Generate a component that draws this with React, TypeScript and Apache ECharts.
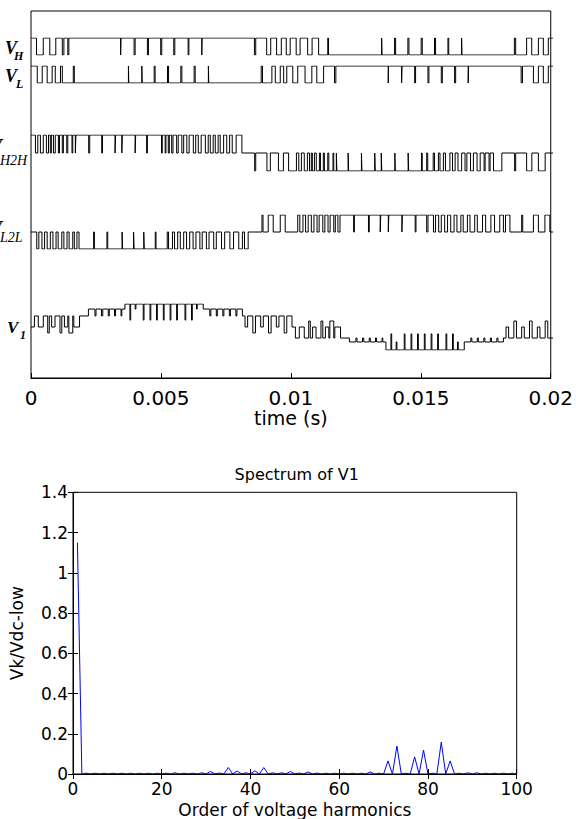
import React, { useEffect, useRef } from "react";
import * as echarts from "echarts";

// ---------- Top panel: switching waveforms (time in ms, level) ----------
const vHTimes = [0, 0.21, 0.47, 0.72, 0.95, 1.2, 1.26, 1.41, 1.45, 3.434, 3.449, 3.95, 3.99, 4.46, 4.5, 4.97, 5.01, 5.47, 5.51, 6.02, 6.05, 6.543, 6.557, 8.56, 8.61, 9.03, 9.185, 9.41, 9.59, 9.78, 9.93, 10.16, 10.31, 10.6, 10.77, 11.02, 11.37, 11.4, 13.434, 13.449, 13.93, 13.97, 14.44, 14.48, 14.95, 14.99, 15.46, 15.5, 15.975, 16.005, 16.498, 16.512, 18.52, 18.57, 18.99, 19.185, 19.44, 19.63, 19.82];
const vHLevels = [1, 0, 1, 0, 1, 0, 1, 0, 1, 0, 1, 0, 1, 0, 1, 0, 1, 0, 1, 0, 1, 0, 1, 0, 1, 0, 1, 0, 1, 0, 1, 0, 1, 0, 1, 0, 1, 0, 1, 0, 1, 0, 1, 0, 1, 0, 1, 0, 1, 0, 1, 0, 1, 0, 1, 0, 1, 0, 1];

const vLTimes = [0, 0.24, 0.43, 0.62, 0.81, 0.93, 1.13, 1.2, 1.62, 1.66, 3.733, 3.747, 4.246, 4.26, 4.72, 4.755, 5.23, 5.27, 5.74, 5.78, 6.25, 6.29, 6.796, 6.81, 8.82, 8.87, 9.23, 9.36, 9.55, 9.68, 9.8, 10.03, 10.22, 10.5, 10.76, 10.95, 11.21, 11.63, 11.68, 13.687, 13.7, 14.2, 14.215, 14.7, 14.735, 15.21, 15.245, 15.72, 15.76, 16.23, 16.27, 16.75, 16.765, 18.78, 18.83, 19.25, 19.44, 19.63, 19.82];
const vLLevels = [1, 0, 1, 0, 1, 0, 1, 0, 1, 0, 1, 0, 1, 0, 1, 0, 1, 0, 1, 0, 1, 0, 1, 0, 1, 0, 1, 0, 1, 0, 1, 0, 1, 0, 1, 0, 1, 0, 1, 0, 1, 0, 1, 0, 1, 0, 1, 0, 1, 0, 1, 0, 1, 0, 1, 0, 1, 0, 1];

const vH2HTimes = [0, 0.17, 0.26, 0.36, 0.47, 0.59, 0.67, 0.74, 0.78, 0.86, 0.93, 1.05, 1.09, 1.2, 1.24, 1.37, 1.41, 1.57, 1.6, 1.7, 1.72, 2.21, 2.25, 2.71, 2.74, 3.22, 3.24, 3.48, 3.5, 3.99, 4.01, 4.43, 4.46, 5.0, 5.03, 5.14, 5.17, 5.26, 5.3, 5.39, 5.44, 5.58, 5.64, 5.78, 5.85, 5.97, 6.06, 6.22, 6.31, 6.41, 6.52, 6.68, 6.79, 6.87, 6.98, 7.06, 7.17, 7.25, 7.38, 7.5, 7.61, 7.71, 7.86, 8.08,
  8.57, 8.61, 9.04, 9.17, 9.48, 9.67, 9.87, 10.17, 10.26, 10.36, 10.47, 10.59, 10.67, 10.74, 10.78, 10.86, 10.93, 11.05, 11.09, 11.2, 11.24, 11.37, 11.41, 11.57, 11.6, 11.7, 11.72, 12.15, 12.17, 12.66, 12.68, 13.17, 13.19, 13.42, 13.44, 13.94, 13.96, 14.45, 14.47, 14.96, 14.99, 15.16, 15.2, 15.41, 15.46, 15.61, 15.67, 15.8, 15.88, 16.05, 16.15, 16.25, 16.36, 16.5, 16.63, 16.7, 16.84, 16.95, 17.09, 17.21, 17.36, 17.4, 17.55, 17.59, 17.72, 18.04,
  18.53, 18.57, 18.99, 19.19, 19.44, 19.7];
const vH2HLevels = [1, 0, 1, 0, 1, 0, 1, 0, 1, 0, 1, 0, 1, 0, 1, 0, 1, 0, 1, 0, 1, 0, 1, 0, 1, 0, 1, 0, 1, 0, 1, 0, 1, 0, 1, 0, 1, 0, 1, 0, 1, 0, 1, 0, 1, 0, 1, 0, 1, 0, 1, 0, 1, 0, 1, 0, 1, 0, 1, 0, 1, 0, 1, 0,
  -1, 0, -1, 0, -1, 0, -1, 0, -1, 0, -1, 0, -1, 0, -1, 0, -1, 0, -1, 0, -1, 0, -1, 0, -1, 0, -1, 0, -1, 0, -1, 0, -1, 0, -1, 0, -1, 0, -1, 0, -1, 0, -1, 0, -1, 0, -1, 0, -1, 0, -1, 0, -1, 0, -1, 0, -1, 0, -1, 0, -1, 0, -1, 0, -1, 0, -1, 0, -1, 0, -1, 0, -1, 0,
  1, 0, 1, 0, 1, 0];

const vL2LTimes = [0, 0.22, 0.3, 0.42, 0.52, 0.62, 0.74, 0.84, 0.96, 1.04, 1.18, 1.26, 1.38, 1.46, 1.6, 1.66, 1.76, 1.84, 2.4, 2.43, 2.91, 2.94, 3.49, 3.51, 3.93, 3.95, 4.32, 4.34, 4.76, 4.79, 5.22, 5.27, 5.42, 5.5, 5.62, 5.72, 5.85, 5.96, 6.08, 6.21, 6.32, 6.47, 6.56, 6.72, 6.82, 7.0, 7.1, 7.3, 7.42, 7.62, 7.76, 7.96, 8.1, 8.18, 8.32,
  8.85, 8.89, 9.09, 9.28, 9.55, 9.74, 10.22, 10.3, 10.42, 10.52, 10.62, 10.74, 10.84, 10.96, 11.04, 11.18, 11.26, 11.38, 11.46, 11.6, 11.66, 11.76, 11.84, 12.36, 12.39, 12.93, 12.96, 13.38, 13.4, 13.69, 13.71, 14.21, 14.23, 14.72, 14.75, 15.16, 15.21, 15.42, 15.5, 15.62, 15.72, 15.85, 15.96, 16.08, 16.21, 16.32, 16.47, 16.56, 16.72, 16.82, 17.0, 17.1, 17.3, 17.42, 17.62, 17.76, 17.96, 18.1, 18.18, 18.35,
  18.8, 18.84, 19.25, 19.44, 19.69, 19.88];
const vL2LLevels = [0, -1, 0, -1, 0, -1, 0, -1, 0, -1, 0, -1, 0, -1, 0, -1, 0, -1, 0, -1, 0, -1, 0, -1, 0, -1, 0, -1, 0, -1, 0, -1, 0, -1, 0, -1, 0, -1, 0, -1, 0, -1, 0, -1, 0, -1, 0, -1, 0, -1, 0, -1, 0, -1, 0,
  1, 0, 1, 0, 1, 0, 1, 0, 1, 0, 1, 0, 1, 0, 1, 0, 1, 0, 1, 0, 1, 0, 1, 0, 1, 0, 1, 0, 1, 0, 1, 0, 1, 0, 1, 0, 1, 0, 1, 0, 1, 0, 1, 0, 1, 0, 1, 0, 1, 0, 1, 0, 1, 0, 1, 0, 1, 0, 1, 0, 1, 0, 1, 0, 1, 0, 1, 0,
  -1, 0, -1, 0, -1, 0];

const v1Times = [0, 0.13, 0.28, 0.47, 0.64, 0.7, 0.79, 0.92, 1.11, 1.18, 1.28, 1.41, 1.45, 1.6, 1.64, 1.86, 1.88, 2.2, 2.45, 2.49, 2.7, 2.75, 2.96, 3.0, 3.2, 3.24, 3.45, 3.48, 3.6, 3.79, 3.82, 3.99, 4.02, 4.3, 4.33, 4.56, 4.59, 4.81, 4.84, 5.07, 5.1, 5.33, 5.36, 5.58, 5.61, 5.9, 5.93, 6.15, 6.18, 6.34, 6.37, 6.6, 6.85, 6.89, 7.1, 7.14, 7.35, 7.39, 7.6, 7.64, 7.85, 7.89, 8.1, 8.2, 8.3, 8.5, 8.6, 8.8, 8.9, 9.1, 9.2, 9.4, 9.5, 9.7, 9.8,
  10.0, 10.13, 10.28, 10.47, 10.64, 10.7, 10.79, 10.92, 11.11, 11.18, 11.28, 11.41, 11.45, 11.6, 11.64, 11.86, 11.88, 12.2, 12.45, 12.49, 12.7, 12.75, 12.96, 13.0, 13.2, 13.24, 13.45, 13.48, 13.6, 13.79, 13.82, 13.99, 14.02, 14.3, 14.33, 14.56, 14.59, 14.81, 14.84, 15.07, 15.1, 15.33, 15.36, 15.58, 15.61, 15.9, 15.93, 16.15, 16.18, 16.34, 16.37, 16.6, 16.85, 16.89, 17.1, 17.14, 17.35, 17.39, 17.6, 17.64, 17.85, 17.89, 18.1, 18.2, 18.3, 18.5, 18.6, 18.8, 18.9, 19.1, 19.2, 19.4, 19.5, 19.7, 19.8];
const v1Levels = [0, 0.48, 0, 0.48, -0.26, 0.48, 0, 0.48, -0.26, 0.48, 0, 0.48, -0.26, 0.48, 0, 0.48, 0.48, 0.78, 0.48, 0.78, 0.48, 0.78, 0.48, 0.78, 0.48, 0.78, 0.48, 0.78, 1, 0.3, 1, 0.78, 1, 0.3, 1, 0.3, 1, 0.3, 1, 0.3, 1, 0.3, 1, 0.3, 1, 0.3, 1, 0.3, 1, 0.78, 1, 0.78, 0.48, 0.78, 0.48, 0.78, 0.48, 0.78, 0.48, 0.78, 0.48, 0.78, 0.48, 0, 0.48, -0.26, 0.48, 0, 0.48, -0.26, 0.48, 0, 0.48, -0.26, 0.48,
  0, -0.48, 0, -0.48, 0.26, -0.48, 0, -0.48, 0.26, -0.48, 0, -0.48, 0.26, -0.48, 0, -0.48, -0.48, -0.65, -0.48, -0.65, -0.48, -0.65, -0.48, -0.65, -0.48, -0.65, -0.48, -0.65, -1, -0.3, -1, -0.65, -1, -0.3, -1, -0.3, -1, -0.3, -1, -0.3, -1, -0.3, -1, -0.3, -1, -0.3, -1, -0.3, -1, -0.65, -1, -0.65, -0.48, -0.65, -0.48, -0.65, -0.48, -0.65, -0.48, -0.65, -0.48, -0.65, -0.48, 0, -0.48, 0.26, -0.48, 0, -0.48, 0.26, -0.48, 0, -0.48, 0.26, -0.48];

const timeTicks = ["0", "0.005", "0.01", "0.015", "0.02"];

// ---------- Bottom panel: spectrum of V1 ----------
const harmonicOrders = Array.from({ length: 100 }, (_, i) => i + 1);
const spectrumValues = [
  1.15, 0, 0.004, 0, 0.004, 0, 0.004, 0, 0.004, 0,
  0.004, 0, 0.004, 0, 0.004, 0, 0.004, 0, 0.004, 0,
  0.004, 0, 0.006, 0, 0.004, 0, 0.004, 0, 0.006, 0,
  0.013, 0, 0.005, 0, 0.032, 0, 0.015, 0, 0.006, 0,
  0.016, 0, 0.032, 0, 0.006, 0, 0.006, 0, 0.013, 0,
  0.005, 0, 0.01, 0, 0.005, 0, 0.004, 0, 0.004, 0,
  0.004, 0, 0.004, 0, 0.004, 0, 0.01, 0, 0.004, 0,
  0.065, 0, 0.139, 0, 0.004, 0, 0.085, 0, 0.119, 0,
  0.004, 0, 0.158, 0, 0.065, 0, 0.004, 0, 0.006, 0,
  0.006, 0, 0.004, 0, 0.004, 0, 0.004, 0, 0.004, 0,
];

const FONT = "DejaVu Sans";
const SERIF = "Liberation Serif";

function stepData(times: number[], levels: number[]) {
  const d: number[][] = times.map((t, i) => [t / 1000, levels[i]]);
  d.push([0.02, levels[levels.length - 1]]);
  return d;
}

const traces = [
  { times: vHTimes, levels: vHLevels, top: 38, height: 17, min: 0, max: 1 },
  { times: vLTimes, levels: vLLevels, top: 66, height: 17, min: 0, max: 1 },
  { times: vH2HTimes, levels: vH2HLevels, top: 135, height: 36, min: -1, max: 1 },
  { times: vL2LTimes, levels: vL2LLevels, top: 215, height: 34, min: -1, max: 1 },
  { times: v1Times, levels: v1Levels, top: 304, height: 46, min: -1, max: 1 },
];

function buildOption(): any {
  const grids: any[] = [
    { left: 31, top: 11, width: 522, height: 367, show: true, borderColor: "#000", borderWidth: 1, backgroundColor: "transparent" },
  ];
  const xAxes: any[] = [
    {
      gridIndex: 0, type: "value", min: 0, max: 0.02, interval: 0.005,
      axisLine: { show: true, lineStyle: { color: "#000", width: 1 } },
      axisTick: { show: true, inside: true, length: 5, lineStyle: { color: "#000" } },
      splitLine: { show: false },
      axisLabel: { fontFamily: FONT, fontSize: 20, color: "#000", margin: 10, formatter: (v: number) => timeTicks[Math.round(v / 0.005)] },
      name: "time (s)", nameLocation: "middle", nameGap: 30,
      nameTextStyle: { fontFamily: FONT, fontSize: 19, color: "#000" },
    },
  ];
  const yAxes: any[] = [{ gridIndex: 0, type: "value", min: 0, max: 1, show: false }];
  const series: any[] = [];
  traces.forEach((tr, i) => {
    const gi = i + 1;
    grids.push({ left: 31, top: tr.top, width: 522, height: tr.height });
    xAxes.push({ gridIndex: gi, type: "value", min: 0, max: 0.02, show: false });
    yAxes.push({ gridIndex: gi, type: "value", min: tr.min, max: tr.max, show: false });
    series.push({
      type: "line", xAxisIndex: gi, yAxisIndex: gi, step: "end", symbol: "none",
      data: stepData(tr.times, tr.levels),
      lineStyle: { color: "#000", width: 1 }, silent: true,
    });
  });

  // spectrum grid
  const sg = grids.length;
  grids.push({ left: 66.7, top: 492.3, width: 450, height: 286, show: true, borderColor: "#000", borderWidth: 1, backgroundColor: "transparent" });
  const sx = xAxes.length;
  xAxes.push({
    gridIndex: sg, type: "value", min: 0, max: 100, interval: 20, z: 5,
    axisLine: { show: true, lineStyle: { color: "#000" } },
    axisTick: { show: true, inside: true, length: 5, lineStyle: { color: "#000" } },
    splitLine: { show: false },
    axisLabel: { fontFamily: FONT, fontSize: 17, color: "#000", margin: 6 },
    name: "Order of voltage harmonics", nameLocation: "middle", nameGap: 27,
    nameTextStyle: { fontFamily: FONT, fontSize: 17, color: "#000" },
  });
  xAxes.push({
    gridIndex: sg, type: "value", min: 0, max: 100, interval: 20, position: "top",
    axisLine: { show: false }, axisTick: { show: true, inside: true, length: 5, lineStyle: { color: "#000" } },
    axisLabel: { show: false }, splitLine: { show: false },
  });
  const sy = yAxes.length;
  yAxes.push({
    gridIndex: sg, type: "value", min: 0, max: 1.4, interval: 0.2,
    axisLine: { show: true, lineStyle: { color: "#000" } },
    axisTick: { show: true, inside: true, length: 5, lineStyle: { color: "#000" } },
    splitLine: { show: false },
    axisLabel: { fontFamily: FONT, fontSize: 17, color: "#000", margin: 5 },
    name: "Vk/Vdc-low", nameLocation: "middle", nameGap: 48, nameRotate: 90,
    nameTextStyle: { fontFamily: FONT, fontSize: 17, color: "#000" },
  });
  yAxes.push({
    gridIndex: sg, type: "value", min: 0, max: 1.4, interval: 0.2, position: "right",
    axisLine: { show: false }, axisTick: { show: true, inside: true, length: 5, lineStyle: { color: "#000" } },
    axisLabel: { show: false }, splitLine: { show: false },
  });
  series.push({
    type: "line", xAxisIndex: sx, yAxisIndex: sy, symbol: "none", z: 2,
    data: harmonicOrders.map((h, i) => [h, spectrumValues[i]]),
    lineStyle: { color: "#0000ff", width: 1 }, silent: true,
  });

  const labelStyle = (size: number, bold: boolean) => ({
    fontFamily: SERIF, fontSize: size, fontStyle: "italic", fontWeight: bold ? "bold" : "normal", fill: "#000",
  });
  const graphic: any[] = [
    { type: "text", left: 5, top: 39, style: { text: "V", ...labelStyle(18, true) } },
    { type: "text", left: 14, top: 50, style: { text: "H", ...labelStyle(12, true) } },
    { type: "text", left: 5, top: 67, style: { text: "V", ...labelStyle(18, true) } },
    { type: "text", left: 16, top: 78, style: { text: "L", ...labelStyle(12, true) } },
    { type: "text", x: -10, y: 137, style: { text: "V", ...labelStyle(18, true) } },
    { type: "text", x: 0, y: 153, style: { text: "H2H", ...labelStyle(14, false) } },
    { type: "text", x: -10, y: 219, style: { text: "V", ...labelStyle(18, true) } },
    { type: "text", x: 0, y: 230, style: { text: "L2L", ...labelStyle(14, false) } },
    { type: "text", left: 7, top: 319, style: { text: "V", ...labelStyle(17, true) } },
    { type: "text", left: 20, top: 329, style: { text: "1", ...labelStyle(12, true) } },
  ];

  return {
    animation: false,
    backgroundColor: "#fff",
    title: {
      text: "Spectrum of V1", left: 291.7, top: 461, textAlign: "center",
      textStyle: { fontFamily: FONT, fontSize: 16, fontWeight: "normal", color: "#000" },
    },
    grid: grids, xAxis: xAxes, yAxis: yAxes, series, graphic,
  };
}

export default function App() {
  const ref = useRef<HTMLDivElement>(null);
  useEffect(() => {
    const chart = echarts.init(ref.current!, null, { renderer: "svg" });
    chart.setOption(buildOption());
    return () => chart.dispose();
  }, []);
  return <div ref={ref} style={{ position: "absolute", left: 0, top: 0, width: 576, height: 819 }} />;
}
